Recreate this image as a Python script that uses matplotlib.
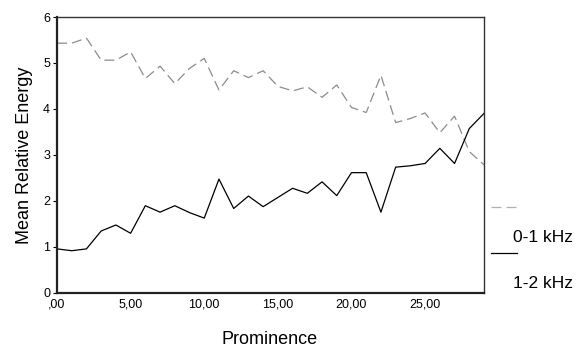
import matplotlib
matplotlib.use("Agg")
import matplotlib.pyplot as plt
from matplotlib.lines import Line2D

plt.rcParams['font.family'] = ['Liberation Sans', 'DejaVu Sans']

# Prominence bins 0..29
prominence = list(range(30))

# mean relative energy, 0-1 kHz band (dashed grey)
band_0_1 = [5.43, 5.43, 5.54, 5.06, 5.06, 5.24, 4.66, 4.93, 4.55, 4.88,
            5.10, 4.41, 4.83, 4.68, 4.83, 4.49, 4.39, 4.48, 4.25, 4.52,
            4.03, 3.92, 4.73, 3.70, 3.79, 3.91, 3.48, 3.84, 3.07, 2.78]

# mean relative energy, 1-2 kHz band (solid black)
band_1_2 = [0.95, 0.91, 0.95, 1.34, 1.47, 1.29, 1.89, 1.75, 1.89, 1.74,
            1.62, 2.47, 1.83, 2.10, 1.87, 2.07, 2.27, 2.16, 2.41, 2.11,
            2.61, 2.61, 1.75, 2.73, 2.76, 2.81, 3.14, 2.81, 3.57, 3.90]

xticks = [0, 5, 10, 15, 20, 25]
xtick_labels = [",00", "5,00", "10,00", "15,00", "20,00", "25,00"]
yticks = [0, 1, 2, 3, 4, 5, 6]

fig = plt.figure(figsize=(5.83, 3.49), dpi=100)
W, H = 583, 349
ax = fig.add_axes([57 / W, 1 - 292.5 / H, (484 - 57) / W, (292.5 - 17) / H])

ax.plot(prominence, band_0_1, color='#8c8c8c', lw=0.9, dashes=(8, 4))
ax.plot(prominence, band_1_2, color='black', lw=0.9)

ax.set_xlim(0, 29)
ax.set_ylim(0, 6)
ax.set_xticks(xticks)
ax.set_xticklabels(xtick_labels)
ax.set_yticks(yticks)
ax.tick_params(axis='x', length=0, pad=4, labelsize=9)
ax.tick_params(axis='y', length=3, width=0.8, pad=2, labelsize=9)

for s in ['left', 'bottom']:
    ax.spines[s].set_linewidth(1.6)
    ax.spines[s].set_color('#222222')
for s in ['top', 'right']:
    ax.spines[s].set_linewidth(1.0)
    ax.spines[s].set_color('#333333')

fig.text(270 / W, 1 - 340 / H, "Prominence", ha='center', va='center', fontsize=13)
fig.text(25 / W, 1 - 155 / H, "Mean Relative Energy", ha='center', va='center',
         rotation=90, fontsize=13)

# legend the SPSS way: sample line above its label
fig.add_artist(Line2D([491 / W, 517 / W], [1 - 207 / H, 1 - 207 / H],
                      color='#b0b0b0', lw=0.9, dashes=(8, 4)))
fig.text(513 / W, 1 - 237 / H, "0-1 kHz", ha='left', va='center', fontsize=12.5)
fig.add_artist(Line2D([491 / W, 517 / W], [1 - 253 / H, 1 - 253 / H],
                      color='black', lw=0.9))
fig.text(513 / W, 1 - 283 / H, "1-2 kHz", ha='left', va='center', fontsize=12.5)

fig.savefig("out.png", dpi=100)
